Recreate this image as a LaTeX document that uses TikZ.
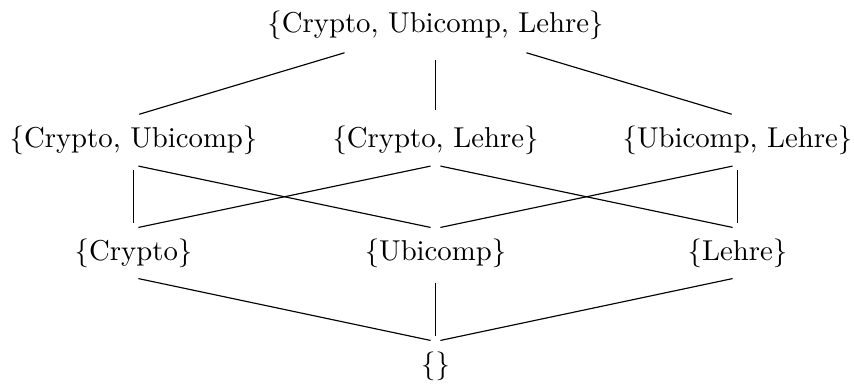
\documentclass[tikz,border=0pt]{standalone}
\begin{document}
\begin{tikzpicture}[x=0.3478pt, y=-0.3478pt,
  setnode/.style={inner sep=0.3333em},
  loweredge/.style={shorten <=1.75pt, shorten >=1.75pt},
  topedge/.style={shorten <=3.3pt, shorten >=2.1pt}]
\useasboundingbox (0,0) rectangle (854,383);
\node[setnode] (top) at (435.5,25.5) {\{Crypto, Ubicomp, Lehre\}};
\node[setnode] (cu) at (133.5,140.5) {\{Crypto, Ubicomp\}};
\node[setnode] (cl) at (435.5,140.5) {\{Crypto, Lehre\}};
\node[setnode] (ul) at (737.5,140.5) {\{Ubicomp, Lehre\}};
\node[setnode] (c) at (133.5,253) {\{Crypto\}};
\node[setnode] (u) at (435.5,253) {\{Ubicomp\}};
\node[setnode] (l) at (737.5,253) {\{Lehre\}};
\node[setnode] (e) at (435.5,366) {\{\}};
\draw[topedge] (top) -- (cu.north);
\draw[topedge] (top) -- (cl.north);
\draw[topedge] (top) -- (ul.north);
\draw[loweredge] (cu.south) -- (c.north);
\draw[loweredge] (cu.south) -- (u.north);
\draw[loweredge] (cl.south) -- (c.north);
\draw[loweredge] (cl.south) -- (l.north);
\draw[loweredge] (ul.south) -- (u.north);
\draw[loweredge] (ul.south) -- (l.north);
\draw[loweredge] (c.south) -- (e.north);
\draw[loweredge] (u.south) -- (e.north);
\draw[loweredge] (l.south) -- (e.north);
\end{tikzpicture}
\end{document}
